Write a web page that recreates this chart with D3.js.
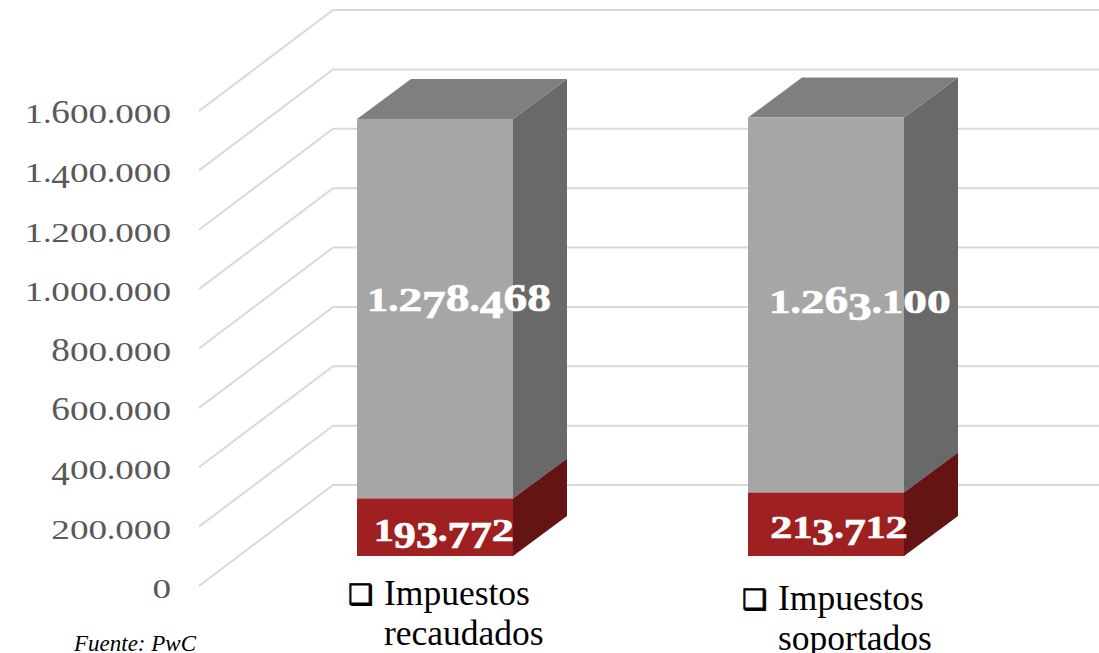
<!DOCTYPE html>
<html><head><meta charset="utf-8">
<script src="https://cdn.jsdelivr.net/npm/d3@7/dist/d3.min.js"></script>
<style>html,body{margin:0;padding:0;background:#fff}svg{display:block}</style>
</head><body><svg id="c" width="1099" height="653"></svg>
<script>
const categories = [["Impuestos","recaudados"],["Impuestos","soportados"]];
const redValues = [193772, 213712];
const greyValues = [1278468, 1263100];
const redLabels = ["193.772","213.712"];
const greyLabels = ["1.278.468","1.263.100"];
const tickValues = [0,200000,400000,600000,800000,1000000,1200000,1400000,1600000];
const source = "Fuente: PwC";

const svg = d3.select("#c");
const SERIF = "'Liberation Serif','DejaVu Serif',serif";
const fmt = d => d3.format(",")(d).replace(/,/g,".");
const yFront = d3.scaleLinear().domain([0,1600000]).range([586,111]);
const yBar = d3.scaleLinear().domain([0,1600000]).range([556,81]);
const h = v => yBar(0)-yBar(v);
const barX = [357,748], barW = 156;
const wallDx = 134, wallDy = -101;
const depthDx = 54, depthDy = -40;

// old-style figures drawn as real text, one stretched run per character
function oldStyle(sel, str, E, wide, oneW, dotW){
  let prev = 0;
  for(const ch of str){
    let target = 0, fs = E, w = dotW*E;
    if(/[0-9]/.test(ch)){
      w = (ch==="1"?oneW:wide)*E;
      if("012".includes(ch)) fs = E*0.9;
      else { fs = E*1.12; if("3457 9".includes(ch)) target = E*0.2; }
    }
    sel.append("tspan").attr("dy",target-prev).attr("font-size",fs)
      .attr("textLength",w).attr("lengthAdjust","spacingAndGlyphs").text(ch);
    prev = target;
  }
}

// gridlines
const grid = svg.append("g").attr("fill","none").attr("stroke","#d9d9d9").attr("stroke-width",2);
grid.selectAll("path").data(tickValues).join("path").attr("d",d=>{
  const y0=yFront(d);
  return d3.line()([[199,y0],[199+wallDx,y0+wallDy],[1099,y0+wallDy]]);
});

// axis
const axis = d3.axisLeft(yFront).tickValues(tickValues).tickSize(0).tickFormat(()=> "");
const ag = svg.append("g").attr("transform","translate(171,0)").call(axis);
ag.select(".domain").remove();
ag.selectAll(".tick text").each(function(d){
  const t=d3.select(this).attr("x",0).attr("dy",null).attr("y",11.5).attr("text-anchor","end")
    .attr("font-family",SERIF).attr("fill","#595959").attr("font-size",30);
  oldStyle(t,fmt(d),30,0.62,0.62,0.27);
});

// bars
function box(g,i,v0,v1,front,side,top){
  const x0=barX[i],x1=x0+barW,yb=yBar(0)-h(v0),yt=yBar(0)-h(v1);
  g.append("path").attr("fill",side).attr("d",d3.line()([[x1,yb],[x1+depthDx,yb+depthDy],[x1+depthDx,yt+depthDy],[x1,yt]]));
  if(top) g.append("path").attr("fill",top).attr("d",d3.line()([[x0,yt],[x0+depthDx,yt+depthDy],[x1+depthDx,yt+depthDy],[x1,yt]]));
  g.append("rect").attr("x",x0).attr("y",yt).attr("width",barW).attr("height",yb-yt).attr("fill",front);
}
const bars=svg.append("g");
categories.forEach((c,i)=>{
  const g=bars.append("g");
  box(g,i,redValues[i],redValues[i]+greyValues[i],"#a6a6a6","#696969","#7f7f7f");
  box(g,i,0,redValues[i],"#9f2020","#651414",null);
});

// labels
const greyPos=[[459,311],[860,313]], redPos=[[444,541],[839,538]];
function label(str,p,E){
  const t=svg.append("text").attr("x",p[0]).attr("y",p[1]).attr("text-anchor","middle")
    .attr("font-family",SERIF).attr("font-weight","bold").attr("fill","#fff")
    .attr("stroke","#fff").attr("stroke-width",0.7).attr("font-size",E);
  oldStyle(t,str,E,0.65,0.58,0.28);
}
greyLabels.forEach((s,i)=>label(s,greyPos[i],36.5));
redLabels.forEach((s,i)=>label(s,redPos[i],34));

// category labels
const catPos=[[384,605],[778,610]];
categories.forEach((c,i)=>{
  const [px,py]=catPos[i];
  svg.append("text").attr("x",px-36).attr("y",py-1).attr("font-family","'DejaVu Sans'").attr("font-size",28)
    .attr("fill","#000").attr("stroke","#000").attr("stroke-width",0.9).text("\u2751");
  c.forEach((l,j)=>svg.append("text").attr("x",px).attr("y",py+j*40).attr("font-family",SERIF).attr("font-size",35.5).attr("fill","#000").text(l));
});
svg.append("text").attr("x",74).attr("y",651).attr("font-family",SERIF).attr("font-style","italic").attr("font-size",23).attr("fill","#000").text(source);
</script></body></html>
